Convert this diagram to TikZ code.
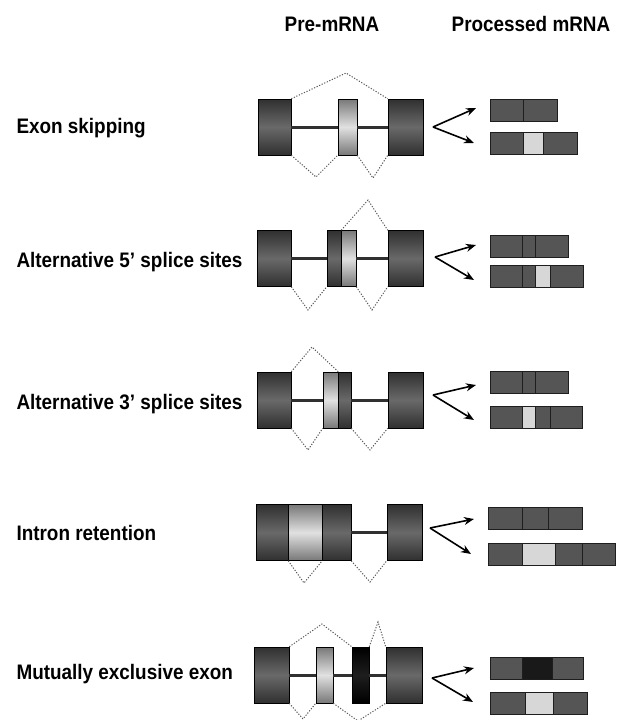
\documentclass[tikz,border=0pt]{standalone}
\usepackage{fontspec}
\setmainfont{Liberation Sans}[FakeStretch=0.9]
\usetikzlibrary{arrows.meta}
\definecolor{exdark}{RGB}{48,48,48}
\definecolor{exmid}{RGB}{105,105,105}
\definecolor{altdark}{RGB}{120,120,120}
\definecolor{altlight}{RGB}{225,225,225}
\definecolor{mutmid}{RGB}{30,30,30}
\definecolor{bargray}{RGB}{85,85,85}
\definecolor{barline}{RGB}{30,30,30}
\definecolor{seglight}{RGB}{215,215,215}
\begin{document}
\begin{tikzpicture}
[x=1pt,y=-1pt,
  exon/.style={draw=black,line width=0.5pt,inner sep=0pt,minimum height=56,%
    top color=exdark,bottom color=exdark,middle color=exmid},
  altexon/.style={exon,top color=altdark,bottom color=altdark,middle color=altlight},
  mutexon/.style={exon,top color=black,bottom color=black,middle color=mutmid},
  intron/.style={line width=3pt,draw=exdark},
  splice/.style={dash pattern=on 1.2pt off 1.6pt,line width=1pt,draw=black!65},
  seg/.style={draw=barline,line width=1pt,fill=bargray,inner sep=0pt,minimum height=22},
  lightseg/.style={seg,fill=seglight},
  blackseg/.style={seg,fill=black!90},
  splitarrow/.style={-{Stealth[length=10pt,width=8pt]},line width=1.6pt},
  rowlabel/.style={anchor=base west,font=\fontsize{21}{24}\selectfont\bfseries},
  header/.style={font=\fontsize{21}{24}\selectfont\bfseries}]
\useasboundingbox (0,0) rectangle (616,720);
% headers and row labels
\node[header] (pre) at (332,24) {Pre-mRNA};
\node[header] (proc) at (531,24) {Processed mRNA};
\node[rowlabel] (lab1) at (13,133) {Exon skipping};
\node[rowlabel] (lab2) at (13,267) {Alternative 5’ splice sites};
\node[rowlabel] (lab3) at (13,409) {Alternative 3’ splice sites};
\node[rowlabel] (lab4) at (13,540) {Intron retention};
\node[rowlabel] (lab5) at (13,679) {Mutually exclusive exon};
% exon skipping
\node[exon,minimum width=33] (a1) at (274.5,127) {};
\node[altexon,minimum width=19] (a2) at (347.5,127) {};
\node[exon,minimum width=35] (a3) at (405.5,127) {};
\coordinate (p1) at (346,73);
\coordinate (v1) at (316,177);
\coordinate (w1) at (373,178);
\draw[intron] (a1.east) -- (a2.west) (a2.east) -- (a3.west);
\draw[splice] (a1.north east) -- (p1) -- (a3.north west);
\draw[splice] (a1.south east) -- (v1) -- (a2.south west);
\draw[splice] (a2.south east) -- (w1) -- (a3.south west);
% alternative 5' splice sites
\node[exon,minimum width=34] (b1) at (274,258.5) {};
\node[exon,minimum width=14] (b2a) at (334,258.5) {};
\node[altexon,minimum width=15] (b2b) at (348.5,258.5) {};
\node[exon,minimum width=35] (b3) at (405.5,258.5) {};
\coordinate (p2) at (368,200);
\coordinate (v2) at (308,310);
\coordinate (w2) at (372,310);
\draw[intron] (b1.east) -- (b2a.west) (b2b.east) -- (b3.west);
\draw[splice] (b2a.north east) -- (p2) -- (b3.north west);
\draw[splice] (b1.south east) -- (v2) -- (b2a.south west);
\draw[splice] (b2b.south east) -- (w2) -- (b3.south west);
% alternative 3' splice sites
\node[exon,minimum width=34] (c1) at (274,400) {};
\node[altexon,minimum width=15] (c2a) at (330.5,400) {};
\node[exon,minimum width=13] (c2b) at (344.5,400) {};
\node[exon,minimum width=35] (c3) at (405.5,400) {};
\coordinate (p3) at (312,347);
\coordinate (v3) at (308,450);
\coordinate (w3) at (370,450);
\draw[intron] (c1.east) -- (c2a.west) (c2b.east) -- (c3.west);
\draw[splice] (c1.north east) -- (p3) -- (c2a.north east);
\draw[splice] (c1.south east) -- (v3) -- (c2a.south west);
\draw[splice] (c2b.south east) -- (w3) -- (c3.south west);
% intron retention
\node[exon,minimum width=32] (d1) at (272,532.5) {};
\node[altexon,minimum width=34] (d2) at (305,532.5) {};
\node[exon,minimum width=29] (d3) at (336.5,532.5) {};
\node[exon,minimum width=35] (d4) at (404.5,532.5) {};
\coordinate (v4) at (304,583);
\coordinate (w4) at (370,582);
\draw[intron] (d3.east) -- (d4.west);
\draw[splice] (d1.south east) -- (v4) -- (d2.south east);
\draw[splice] (d3.south east) -- (w4) -- (d4.south west);
% mutually exclusive exon
\node[exon,minimum width=35] (e1) at (271.5,675) {};
\node[altexon,minimum width=17] (e2) at (324.5,675) {};
\node[mutexon,minimum width=17] (e3) at (360.5,675) {};
\node[exon,minimum width=36] (e4) at (404,675) {};
\coordinate (p5) at (322,624);
\coordinate (q5) at (378,622);
\coordinate (v5) at (303,719);
\coordinate (w5) at (358,721);
\draw[intron] (e1.east) -- (e2.west) (e2.east) -- (e3.west) (e3.east) -- (e4.west);
\draw[splice] (e1.north east) -- (p5) -- (e3.north west);
\draw[splice] (e3.north east) -- (q5) -- (e4.north west);
\draw[splice] (e1.south east) -- (v5) -- (e2.south west);
\draw[splice] (e2.south east) -- (w5) -- (e4.south west);
% forks
\coordinate (f1) at (433,127);  \coordinate (u1) at (476,108); \coordinate (l1) at (474,143);
\coordinate (f2) at (435,257);  \coordinate (u2) at (476,245); \coordinate (l2) at (474,280);
\coordinate (f3) at (433,395);  \coordinate (u3) at (476,385); \coordinate (l3) at (474,420);
\coordinate (f4) at (430,528);  \coordinate (u4) at (474,519); \coordinate (l4) at (471,554);
\coordinate (f5) at (432,678);  \coordinate (u5) at (474,668); \coordinate (l5) at (473,702);
\foreach \i in {1,...,5}{
  \draw[splitarrow] (f\i) -- (u\i);
  \draw[splitarrow] (f\i) -- (l\i);
}
% processed mRNA
\node[seg,minimum width=33] (t1a) at (506.5,110) {};
\node[seg,minimum width=34] (t1b) at (540,110) {};
\node[seg,minimum width=33] (s1a) at (506.5,143) {};
\node[lightseg,minimum width=20] (s1b) at (533,143) {};
\node[seg,minimum width=34] (s1c) at (560,143) {};
\node[seg,minimum width=32] (t2a) at (506,246) {};
\node[seg,minimum width=13] (t2b) at (528.5,246) {};
\node[seg,minimum width=33] (t2c) at (551.5,246) {};
\node[seg,minimum width=32] (s2a) at (506,276.5) {};
\node[seg,minimum width=13] (s2b) at (528.5,276.5) {};
\node[lightseg,minimum width=15] (s2c) at (542.5,276.5) {};
\node[seg,minimum width=33] (s2d) at (566.5,276.5) {};
\node[seg,minimum width=32] (t3a) at (506,382.5) {};
\node[seg,minimum width=13] (t3b) at (528.5,382.5) {};
\node[seg,minimum width=33] (t3c) at (551.5,382.5) {};
\node[seg,minimum width=32] (s3a) at (506,417.5) {};
\node[lightseg,minimum width=13] (s3b) at (528.5,417.5) {};
\node[seg,minimum width=15] (s3c) at (542.5,417.5) {};
\node[seg,minimum width=32] (s3d) at (566,417.5) {};
\node[seg,minimum width=34] (t4a) at (505,518.5) {};
\node[seg,minimum width=26] (t4b) at (535,518.5) {};
\node[seg,minimum width=34] (t4c) at (565,518.5) {};
\node[seg,minimum width=34] (s4a) at (505,554.5) {};
\node[lightseg,minimum width=33] (s4b) at (538.5,554.5) {};
\node[seg,minimum width=27] (s4c) at (568.5,554.5) {};
\node[seg,minimum width=33] (s4d) at (598.5,554.5) {};
\node[seg,minimum width=32] (t5a) at (506,668.5) {};
\node[blackseg,minimum width=30] (t5b) at (537,668.5) {};
\node[seg,minimum width=31] (t5c) at (567.5,668.5) {};
\node[seg,minimum width=35] (s5a) at (507.5,703.5) {};
\node[lightseg,minimum width=28] (s5b) at (539,703.5) {};
\node[seg,minimum width=34] (s5c) at (570,703.5) {};
\end{tikzpicture}
\end{document}
